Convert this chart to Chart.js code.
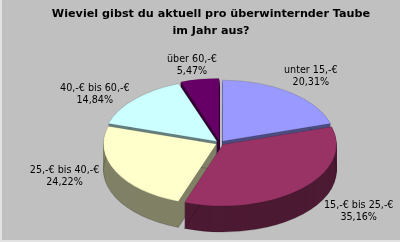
<!DOCTYPE html>
<html>
<head>
<meta charset="utf-8">
<script src="https://cdn.jsdelivr.net/npm/chart.js@4.4.1/dist/chart.umd.min.js"></script>
<style>
  html, body { margin: 0; padding: 0; background: #c0c0c0; }
  #wrap { width: 400px; height: 242px; }
</style>
</head>
<body>
<div id="wrap"><canvas id="taubenChart" width="400" height="242"></canvas></div>
<script>
// Daten
const kategorien = ['unter 15,-€', '15,-€ bis 25,-€', '25,-€ bis 40,-€', '40,-€ bis 60,-€', 'über 60,-€'];
const anteile = [20.31, 35.16, 24.22, 14.84, 5.47];
const titelZeilen = ['Wieviel gibst du aktuell pro überwinternder Taube', 'im Jahr aus?'];

// Farben (Excel-Palette): Oberseite und Seitenwand
const farben = ['#9999ff', '#993366', '#ffffcc', '#ccffff', '#660066'];
const seitenFarben = ['#4d4d80', '#4d1a33', '#808066', '#668080', '#330033'];
// Lage der Beschriftungen als Vielfaches der Ellipsenradien (x, y)
const labelAbstand = [[1.35, 1.36], [1.78, 1.55], [1.54, 1.21], [1.53, 1.15], [1.45, 1.29]];

function mitte(a) {
  return (a.startAngle + a.endAngle) / 2;
}

// gleicher Umriss wie das Chart.js-Segment (inkl. offset)
function segmentPfad(ctx, a) {
  const off = (a.options.offset || 0) / 4;
  const m = mitte(a);
  const fix = 1 - Math.sin(Math.min(Math.PI, a.circumference || 0));
  const r = a.outerRadius + off * fix;
  const x = a.x + Math.cos(m) * off;
  const y = a.y + Math.sin(m) * off;
  ctx.beginPath();
  ctx.moveTo(x, y);
  ctx.arc(x, y, r, a.startAngle, a.endAngle);
  ctx.closePath();
}

// 3D-Torte: Kippen + Seitenwände + Beschriftung
const torte3d = {
  id: 'torte3d',
  beforeDraw(chart) {
    const {ctx, width, height} = chart;
    ctx.save();
    ctx.fillStyle = '#c0c0c0';
    ctx.fillRect(0, 0, width, height);
    ctx.fillStyle = '#e2e2e2';
    ctx.fillRect(0, 0, 2, height);
    ctx.fillRect(0, height - 2, width, 2);
    ctx.restore();
  },
  beforeDatasetsDraw(chart, args, opts) {
    const ctx = chart.ctx;
    const arcs = chart.getDatasetMeta(0).data;
    const cx = arcs[0].x, cy = arcs[0].y;
    ctx.save();
    ctx.translate(cx + opts.shiftX, cy + opts.shiftY);
    ctx.scale(1, opts.tilt);
    ctx.translate(-cx, -cy);

    // Seitenwände von hinten nach vorne
    const reihenfolge = arcs.map((a, i) => i)
      .sort((i, j) => Math.sin(mitte(arcs[i])) - Math.sin(mitte(arcs[j])));
    reihenfolge.forEach(i => {
      ctx.fillStyle = seitenFarben[i];
      for (let d = opts.depth; d >= 1; d--) {
        ctx.save();
        ctx.translate(0, d / opts.tilt);
        segmentPfad(ctx, arcs[i]);
        ctx.fill();
        ctx.restore();
      }
      // dünne Kante unten
      ctx.save();
      ctx.translate(0, opts.depth / opts.tilt);
      segmentPfad(ctx, arcs[i]);
      ctx.strokeStyle = 'rgba(0,0,0,0.35)';
      ctx.lineWidth = 0.7;
      ctx.stroke();
      ctx.restore();
    });
  },
  afterDatasetsDraw(chart, args, opts) {
    const ctx = chart.ctx;
    ctx.restore();

    const arcs = chart.getDatasetMeta(0).data;
    const cx = arcs[0].x + opts.shiftX;
    const cy = arcs[0].y + opts.shiftY;
    ctx.save();
    ctx.fillStyle = '#000';
    ctx.font = '9.6px "DejaVu Sans"';
    ctx.textAlign = 'center';
    ctx.textBaseline = 'middle';
    arcs.forEach((a, i) => {
      const m = mitte(a);
      const rx = a.outerRadius, ry = a.outerRadius * opts.tilt;
      const lx = cx + rx * labelAbstand[i][0] * Math.cos(m);
      const ly = cy + ry * labelAbstand[i][1] * Math.sin(m);
      ctx.fillText(kategorien[i], lx, ly - 6);
      ctx.fillText(anteile[i].toFixed(2).replace('.', ',') + '%', lx, ly + 6);
    });
    ctx.restore();
  }
};

const ctx = document.getElementById('taubenChart');
new Chart(ctx, {
  type: 'pie',
  data: {
    labels: kategorien,
    datasets: [{
      data: anteile,
      backgroundColor: farben,
      borderColor: 'rgba(0,0,0,0.3)',
      borderWidth: 0.6,
      offset: 16,
      radius: 113,
      clip: false
    }]
  },
  options: {
    responsive: false,
    animation: false,
    events: [],
    layout: {
      padding: { left: 22, right: 0, top: 0, bottom: 0 }
    },
    plugins: {
      legend: { display: false },
      tooltip: { enabled: false },
      title: {
        display: true,
        text: titelZeilen,
        color: '#000',
        font: { family: 'DejaVu Sans', size: 11.2, weight: 'bold', lineHeight: 1.5 },
        padding: { top: 6, bottom: 0 }
      },
      torte3d: {
        tilt: 0.54,
        depth: 26,
        shiftX: 9,
        shiftY: 2.2
      }
    }
  },
  plugins: [torte3d]
});
</script>
</body>
</html>
